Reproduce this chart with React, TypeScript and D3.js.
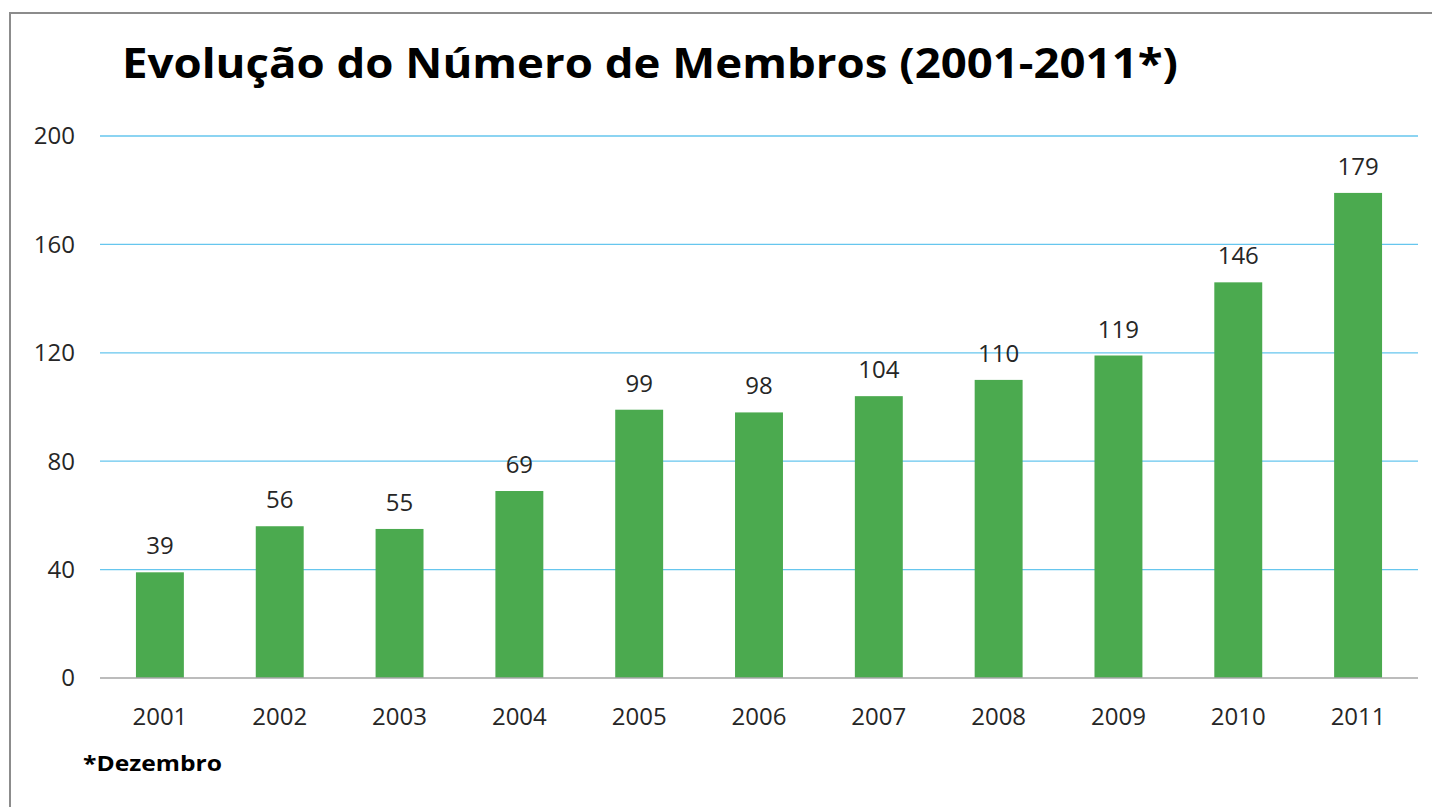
import React from 'react';
import * as d3 from 'd3';

const years = ['2001', '2002', '2003', '2004', '2005', '2006', '2007', '2008', '2009', '2010', '2011'];
const members = [39, 56, 55, 69, 99, 98, 104, 110, 119, 146, 179];
const yTicks = [0, 40, 80, 120, 160, 200];

const title = 'Evolução do Número de Membros (2001-2011*)';
const footnote = '*Dezembro';

const W = 1432;
const H = 807;
const FONT = "'Open Sans', 'Noto Sans', sans-serif";

export default function App() {
  const x = d3.scaleBand().domain(years).range([100, 1418]).paddingInner(0.6).paddingOuter(0.3);
  const y = d3.scaleLinear().domain([0, 200]).range([678, 136]);

  return (
    <svg width={W} height={H} style={{ position: 'absolute', left: 0, top: 0, background: '#fff' }}>
      {/* outer frame */}
      <rect x={10} y={13} width={W + 20} height={H + 20} fill='#fff' stroke='#8c8c8c' strokeWidth={2} />

      <text x={122} y={78} fontFamily={FONT} fontWeight='bold' fontSize={41} fill='#000'
        textLength={1056} lengthAdjust='spacingAndGlyphs'>{title}</text>

      {/* gridlines + y labels */}
      {yTicks.map(t => (
        <g key={t}>
          {t !== 0 && <line x1={100} x2={1418} y1={y(t)} y2={y(t)} stroke='#66c6ee' strokeWidth={1.3} />}
          <text x={75} y={y(t)} dy='0.35em' textAnchor='end' fontFamily={FONT} fontSize={24} fill='#262626'>{t}</text>
        </g>
      ))}

      {/* bars */}
      {years.map((yr, i) => (
        <g key={yr}>
          <rect x={x(yr)} y={y(members[i])} width={x.bandwidth()} height={y(0) - y(members[i])} fill='#4baa4f' />
          <text x={x(yr)! + x.bandwidth() / 2} y={y(members[i]) - 18} textAnchor='middle'
            fontFamily={FONT} fontSize={24} fill='#262626'>{members[i]}</text>
          <text x={x(yr)! + x.bandwidth() / 2} y={725} textAnchor='middle'
            fontFamily={FONT} fontSize={24} fill='#262626'>{yr}</text>
        </g>
      ))}

      {/* x axis line */}
      <line x1={100} x2={1418} y1={y(0)} y2={y(0)} stroke='#a6a6a6' strokeWidth={1.5} />

      <text x={83} y={771} fontFamily={FONT} fontWeight='bold' fontSize={21} fill='#000'
        textLength={139} lengthAdjust='spacingAndGlyphs'>{footnote}</text>
    </svg>
  );
}
